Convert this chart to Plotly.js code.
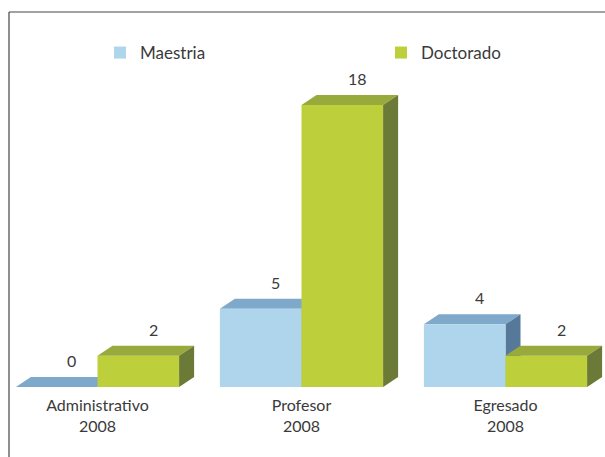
<!DOCTYPE html>
<html><head><meta charset="utf-8">
<script src="https://cdn.plot.ly/plotly-3.0.1.min.js"></script>
<style>html,body{margin:0;padding:0;background:#fff}#chart{width:605px;height:457px}</style>
</head><body><div id="chart"></div>
<script>
const categories = ['Administrativo<br>2008', 'Profesor<br>2008', 'Egresado<br>2008'];
const seriesNames = ['Maestria', 'Doctorado'];
const maestria = [0, 5, 4];
const doctorado = [2, 18, 2];

const xs = categories.map((c, i) => i);
const W = 0.4;              // bar width (data units)
const DX = 15 / 204;        // depth offset x (data units)
const DY = 10 / 15.67;      // depth offset y (data units)

const colM = {front: '#aed5ec', top: '#7ea9cb', side: '#56799a'};
const colD = {front: '#bdd03b', top: '#99aa3c', side: '#6b7a36'};

const shapes = [];
function addFaces(vals, offset, col, layer, withSide) {
  vals.forEach((v, i) => {
    const xL = xs[i] + offset, xR = xL + W;
    shapes.push({type: 'path', xref: 'x', yref: 'y', layer: layer, line: {width: 0}, fillcolor: col.top,
      path: `M${xL},${v} L${xR},${v} L${xR + DX},${v + DY} L${xL + DX},${v + DY} Z`});
    if (withSide) {
      shapes.push({type: 'path', xref: 'x', yref: 'y', layer: layer, line: {width: 0}, fillcolor: col.side,
        path: `M${xR},0 L${xR},${v} L${xR + DX},${v + DY} L${xR + DX},${DY} Z`});
    }
  });
}
addFaces(maestria, -W, colM, 'below', true);
addFaces(doctorado, 0, colD, 'above', true);

// frame
shapes.push({type: 'line', xref: 'paper', yref: 'paper', x0: 0, x1: 0, y0: -0.3, y1: 1, line: {color: '#444', width: 1.2}});
shapes.push({type: 'line', xref: 'paper', yref: 'paper', x0: 0, x1: 1.05, y0: 1, y1: 1, line: {color: '#444', width: 1.2}});

const annotations = [];
[[maestria, -W / 2], [doctorado, W / 2]].forEach(([vals, off]) => {
  vals.forEach((v, i) => {
    annotations.push({x: xs[i] + off + DX, y: v + DY, text: String(v), showarrow: false,
      xanchor: 'center', yanchor: 'bottom', yshift: 5, font: {family: 'Lato', size: 16, color: '#3a3a3a'}});
  });
});

const traces = [
  {type: 'bar', name: seriesNames[0], x: xs, y: maestria, width: W, offset: -W, legend: 'legend',
   marker: {color: colM.front, line: {width: 0}}, hoverinfo: 'skip'},
  {type: 'bar', name: seriesNames[1], x: xs, y: doctorado, width: W, offset: 0, legend: 'legend2',
   marker: {color: colD.front, line: {width: 0}}, hoverinfo: 'skip'}
];

const legendCommon = {orientation: 'h', xanchor: 'left', yanchor: 'middle', y: 1 - (53 - 12) / 375,
  font: {family: 'Lato', size: 17, color: '#3a3a3a'}, bgcolor: 'rgba(0,0,0,0)'};

const layout = {
  width: 605, height: 457,
  margin: {l: 9, r: 0, t: 12, b: 70},
  paper_bgcolor: '#fff', plot_bgcolor: '#fff',
  barmode: 'overlay',
  font: {family: 'Lato', color: '#3a3a3a'},
  xaxis: {range: [-(97.5 - 9) / 204, 2 + (605 - 505.5) / 204], tickvals: xs, ticktext: categories,
    showgrid: false, zeroline: false, showline: false, ticks: '', ticklabelstandoff: 7,
    tickfont: {family: 'Lato', size: 16, color: '#3a3a3a'}},
  yaxis: {range: [0, 375 / 15.67], visible: false, showgrid: false, zeroline: false},
  showlegend: true,
  legend: Object.assign({}, legendCommon, {x: (112 - 9 - 12) / 596}),
  legend2: Object.assign({}, legendCommon, {x: (393 - 9 - 12) / 596}),
  shapes: shapes,
  annotations: annotations
};

Plotly.newPlot('chart', traces, layout, {staticPlot: true, displayModeBar: false});
</script>
</body></html>
